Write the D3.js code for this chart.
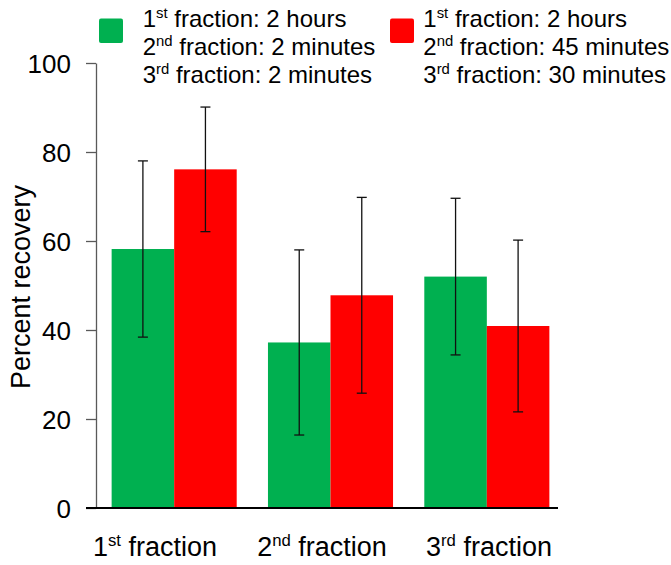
<!DOCTYPE html>
<html>
<head>
<meta charset="utf-8">
<script src="https://cdn.jsdelivr.net/npm/d3@7/dist/d3.min.js"></script>
<style>
  html, body { margin: 0; padding: 0; background: #fff; }
  svg { display: block; font-family: "Liberation Sans", Arial, sans-serif; }
</style>
</head>
<body>
<svg id="chart" width="671" height="565"></svg>
<script>
// ---- data ----
const categories = [["1", "st", " fraction"], ["2", "nd", " fraction"], ["3", "rd", " fraction"]];
const seriesNames = ["short", "long"];
const seriesColors = ["#00B050", "#FF0000"];
const shortValues = [58.2, 37.2, 52.0];
const shortErrors = [19.8, 20.8, 17.6];
const longValues = [76.1, 47.8, 40.9];
const longErrors = [14.0, 22.0, 19.3];
const yTicks = [0, 20, 40, 60, 80, 100];
const yTitle = "Percent recovery";
const legendShort = [["1", "st", " fraction: 2 hours"], ["2", "nd", " fraction: 2 minutes"], ["3", "rd", " fraction: 2 minutes"]];
const legendLong = [["1", "st", " fraction: 2 hours"], ["2", "nd", " fraction: 45 minutes"], ["3", "rd", " fraction: 30 minutes"]];

const catKeys = categories.map(c => c.join(""));
const valuesBySeries = [shortValues, longValues];
const errorsBySeries = [shortErrors, longErrors];

const svg = d3.select("#chart");

const y = d3.scaleLinear().domain([0, 100]).range([508, 63]);
const x = d3.scaleBand().domain(catKeys).range([96, 565]).paddingInner(0.2).paddingOuter(0.1);
const xs = d3.scaleBand().domain(seriesNames).range([0, x.bandwidth()]);
const xLabel = d3.scalePoint().domain(catKeys).range([155, 489]);

// bars
const barData = [];
catKeys.forEach((c, i) => {
  seriesNames.forEach((s, j) => {
    barData.push({cat: c, s, j, v: valuesBySeries[j][i], e: errorsBySeries[j][i]});
  });
});

svg.append("g").selectAll("rect").data(barData).join("rect")
  .attr("x", d => x(d.cat) + xs(d.s))
  .attr("y", d => y(d.v))
  .attr("width", xs.bandwidth())
  .attr("height", d => y(0) - y(d.v))
  .attr("fill", d => seriesColors[d.j]);

// error bars
const eg = svg.append("g").attr("stroke", "#111").attr("stroke-width", 1.3);
barData.forEach(d => {
  const cx = x(d.cat) + xs(d.s) + xs.bandwidth() / 2;
  eg.append("line").attr("x1", cx).attr("x2", cx).attr("y1", y(d.v + d.e)).attr("y2", y(d.v - d.e));
  eg.append("line").attr("x1", cx - 5).attr("x2", cx + 5).attr("y1", y(d.v + d.e)).attr("y2", y(d.v + d.e));
  eg.append("line").attr("x1", cx - 5).attr("x2", cx + 5).attr("y1", y(d.v - d.e)).attr("y2", y(d.v - d.e));
});

// y axis
const yAxis = d3.axisLeft(y).tickValues(yTicks).tickSize(10).tickPadding(15).tickSizeOuter(0);
const yg = svg.append("g").attr("transform", "translate(96,0)").call(yAxis);
yg.select(".domain").attr("stroke", "#595959").attr("stroke-width", 1.3);
yg.selectAll(".tick line").attr("stroke", "#595959").attr("stroke-width", 1.3);
yg.selectAll(".tick text").attr("font-size", 26).attr("fill", "#000")
  .attr("font-family", "'Liberation Sans', Arial, sans-serif").attr("dy", "0.36em");

// x axis line
svg.append("line").attr("x1", 86).attr("x2", 558).attr("y1", y(0)).attr("y2", y(0))
  .attr("stroke", "#000").attr("stroke-width", 2);

// superscript helper
function supText(sel, parts, bigSize) {
  sel.append("tspan").text(parts[0]);
  sel.append("tspan").text(parts[1]).attr("font-size", bigSize * 0.62).attr("dy", -bigSize * 0.36);
  sel.append("tspan").text(parts[2]).attr("dy", bigSize * 0.36);
}

// x labels
categories.forEach((c, i) => {
  const t = svg.append("text").attr("x", xLabel(catKeys[i])).attr("y", 556)
    .attr("text-anchor", "middle").attr("font-size", 27).attr("fill", "#000");
  supText(t, c, 27);
});

// y title
svg.append("text").attr("transform", "translate(30,287) rotate(-90)")
  .attr("text-anchor", "middle").attr("font-size", 27).attr("fill", "#000").text(yTitle);

// legend
const legends = [legendShort, legendLong];
const legX = [99, 390];
const legTextX = [142.7, 423.3];
legends.forEach((lines, k) => {
  svg.append("rect").attr("x", legX[k]).attr("y", 18.5).attr("width", 24).attr("height", 24.5)
    .attr("rx", 2).attr("fill", seriesColors[k]);
  lines.forEach((ln, li) => {
    const t = svg.append("text").attr("x", legTextX[k]).attr("y", 26.5 + li * 28)
      .attr("font-size", 24).attr("fill", "#000");
    supText(t, ln, 24);
  });
});
</script>
</body>
</html>
